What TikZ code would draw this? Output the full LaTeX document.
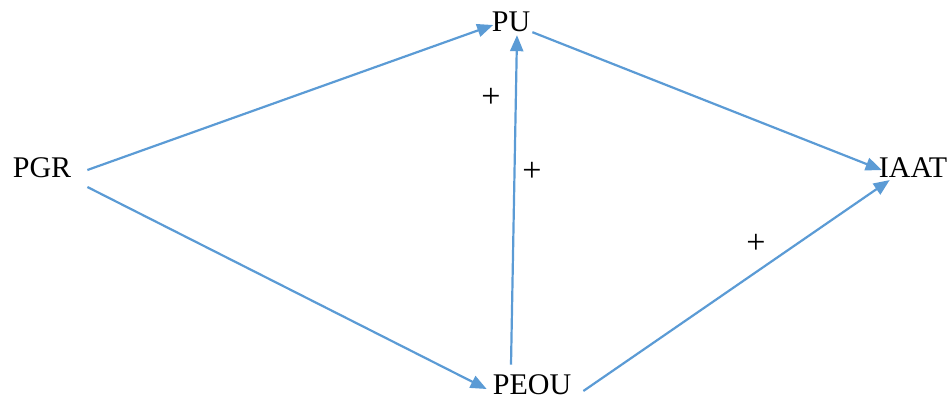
\documentclass[tikz,border=0pt]{standalone}
\usepackage{fontspec}
\setmainfont{Liberation Serif}
\usetikzlibrary{arrows.meta}
\definecolor{LinkBlue}{RGB}{91,155,213}

\begin{document}
\begin{tikzpicture}
[   x=1pt, y=-1pt,
    factor/.style={inner sep=0, font=\fontsize{30}{36}\selectfont},
    sign/.style={inner sep=0, font=\fontsize{34}{40}\selectfont},
    link/.style={draw=LinkBlue, line width=2.2pt,
        -{Triangle[length=16pt, width=13pt]}}
]
    \useasboundingbox (0,0) rectangle (950,400);

    \node[factor] (PU) at (511,22) {PU};
    \node[factor] (PGR) at (42,168) {PGR};
    \node[factor] (IAAT) at (913,168) {IAAT};
    \node[factor] (PEOU) at (532,385) {PEOU};

    \node[sign] (plus-a) at (491,98) {+};
    \node[sign] (plus-b) at (532,172) {+};
    \node[sign] (plus-c) at (756,244) {+};

    \draw[link] ([shift={(16,2)}]PGR.east) -- ([shift={(1.5,3)}]PU.west);
    \draw[link] ([shift={(16,19)}]PGR.east) -- ([shift={(-6,4)}]PEOU.west);
    \draw[link] ([shift={(-21,-10)}]PEOU.north) -- ([shift={(6,3)}]PU.south);
    \draw[link] ([shift={(2,0)}]PU.south east) -- ([shift={(3,2)}]IAAT.west);
    \draw[link] ([shift={(12,6)}]PEOU.east) -- ([shift={(11,2)}]IAAT.south west);
\end{tikzpicture}
\end{document}
